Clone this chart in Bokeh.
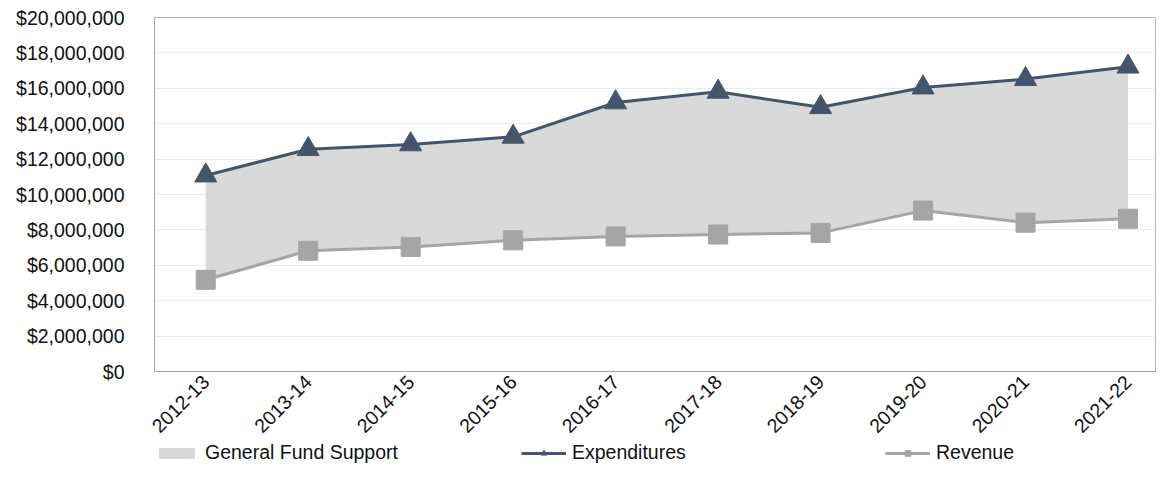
from bokeh.plotting import figure
from bokeh.models import (Range1d, FixedTicker, SingleIntervalTicker, NumeralTickFormatter,
                          Legend, LegendItem, ColumnDataSource)
from bokeh.layouts import column
from bokeh.embed import file_html
from bokeh.resources import INLINE
import math

years = ["2012-13", "2013-14", "2014-15", "2015-16", "2016-17",
         "2017-18", "2018-19", "2019-20", "2020-21", "2021-22"]
expenditures = [11070000, 12560000, 12830000, 13260000, 15200000,
                15800000, 14930000, 16040000, 16520000, 17220000]
revenue = [5180000, 6820000, 7040000, 7410000, 7630000,
           7740000, 7830000, 9090000, 8410000, 8630000]

FONT = "Liberation Sans"
FS = "19.5px"
EXP_COLOR = "#44546a"
REV_COLOR = "#a5a5a5"
AREA_COLOR = "#d9d9d9"
TEXT_COLOR = "#111111"

idx = list(range(len(years)))
src = ColumnDataSource(dict(x=idx, exp=expenditures, rev=revenue))


def add_series(fig):
    a = fig.varea(x="x", y1="rev", y2="exp", source=src, fill_color=AREA_COLOR)
    el = fig.line(x="x", y="exp", source=src, line_color=EXP_COLOR, line_width=3)
    ep = fig.scatter(x="x", y="exp", source=src, marker="triangle", size=22,
                     fill_color=EXP_COLOR, line_color=EXP_COLOR)
    rl = fig.line(x="x", y="rev", source=src, line_color=REV_COLOR, line_width=3)
    rp = fig.scatter(x="x", y="rev", source=src, marker="square", size=19,
                     fill_color=REV_COLOR, line_color=REV_COLOR)
    return a, el, ep, rl, rp


# main chart
p = figure(width=1156, height=442, output_backend="svg", toolbar_location=None,
           x_range=Range1d(-0.5, 9.278), y_range=Range1d(0, 20000000),
           min_border_left=154, min_border_right=0, min_border_top=17, min_border_bottom=66)
add_series(p)

p.outline_line_color = "#b4b4b4"
p.xgrid.grid_line_color = None
p.ygrid.grid_line_color = "#ececec"
p.ygrid.ticker = SingleIntervalTicker(interval=2000000)

ya = p.yaxis[0]
ya.ticker = SingleIntervalTicker(interval=2000000)
ya.formatter = NumeralTickFormatter(format="$0,0")
ya.axis_line_color = "#a6a6a6"
ya.major_tick_line_color = None
ya.minor_tick_line_color = None
ya.major_label_standoff = 24
ya.major_label_text_font = FONT
ya.major_label_text_font_size = FS
ya.major_label_text_color = TEXT_COLOR

xa = p.xaxis[0]
xa.ticker = FixedTicker(ticks=idx)
xa.major_label_overrides = {i: y for i, y in zip(idx, years)}
xa.major_label_orientation = math.pi / 4
xa.axis_line_color = "#a6a6a6"
xa.major_tick_line_color = None
xa.major_tick_out = 0
xa.major_tick_in = 0
xa.minor_tick_line_color = None
xa.minor_tick_out = 0
xa.major_label_standoff = 7
xa.major_label_text_font = FONT
xa.major_label_text_font_size = FS
xa.major_label_text_color = TEXT_COLOR

# legend strip (its series lie outside its visible range; only the legend shows)
lg = figure(width=1156, height=22, output_backend="svg", toolbar_location=None,
            x_range=Range1d(-100, -99), y_range=Range1d(0, 1),
            min_border=0, x_axis_location=None, y_axis_location=None)
lg.outline_line_color = None
lg.grid.visible = False
a, el, ep, rl, rp = add_series(lg)

legend = Legend(items=[
    LegendItem(label="General Fund Support", renderers=[a]),
    LegendItem(label="Expenditures", renderers=[el, ep]),
    LegendItem(label="Revenue", renderers=[rl, rp]),
], location=(0, 0), orientation="horizontal",
   glyph_width=45, glyph_height=14, label_height=20, label_width=190,
   label_standoff=6, spacing=123, padding=0, margin=0,
   border_line_color=None, background_fill_alpha=0,
   label_text_font=FONT, label_text_font_size=FS, label_text_color=TEXT_COLOR)
lg.add_layout(legend, "center")

layout = column(p, lg, spacing=0)
open("out.html", "w").write(file_html(layout, INLINE))
